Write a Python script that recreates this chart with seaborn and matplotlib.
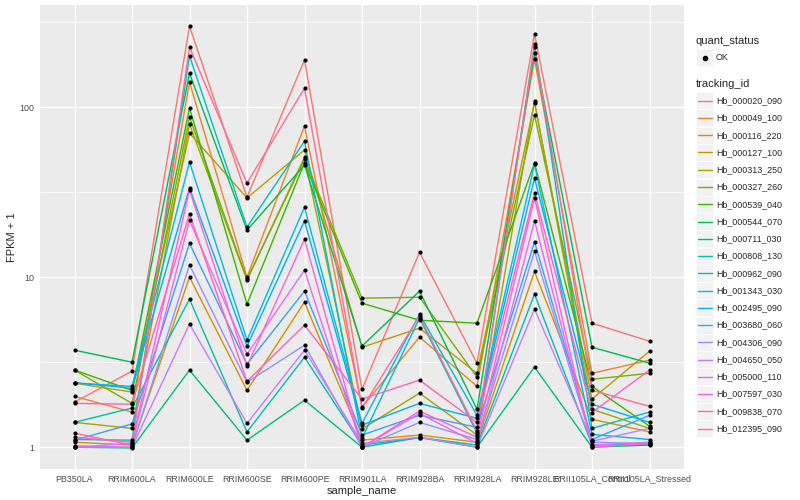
import numpy as np
import pandas as pd
import seaborn as sns
import matplotlib
matplotlib.use("Agg")
import matplotlib.pyplot as plt
from matplotlib.patches import Rectangle
from matplotlib.lines import Line2D

samples = ["PB350LA", "RRIM600LA", "RRIM600LE", "RRIM600SE", "RRIM600PE",
           "RRIM901LA", "RRIM928BA", "RRIM928LA", "RRIM928LE",
           "RRII105LA_Control", "RRII105LA_Stressed"]

ids = ["Hb_000020_090", "Hb_000049_100", "Hb_000116_220", "Hb_000127_100",
       "Hb_000313_250", "Hb_000327_260", "Hb_000539_040", "Hb_000544_070",
       "Hb_000711_030", "Hb_000808_130", "Hb_000962_090", "Hb_001343_030",
       "Hb_002495_090", "Hb_003680_060", "Hb_004306_090", "Hb_004650_050",
       "Hb_005000_110", "Hb_007597_030", "Hb_009838_070", "Hb_012395_090"]

# FPKM + 1, one list per tracking_id, in sample order
hb_000020_090 = [1.84, 2.80, 299, 29.5, 189, 2.19, 14.0, 3.12, 269, 5.36, 4.20]
hb_000049_100 = [1.99, 1.61, 140, 10.0, 77.3, 1.72, 4.44, 2.28, 191, 2.72, 3.25]
hb_000116_220 = [1.07, 1.03, 10.0, 2.16, 7.13, 1.10, 1.18, 1.07, 10.8, 1.46, 1.23]
hb_000127_100 = [2.38, 2.11, 70.3, 29.2, 55.9, 3.87, 5.01, 2.72, 106, 1.92, 3.67]
hb_000313_250 = [1.40, 1.29, 79.4, 9.6, 50.8, 1.28, 2.08, 1.18, 108, 1.67, 1.29]
hb_000327_260 = [2.84, 1.81, 87.3, 9.7, 49.4, 7.52, 7.62, 2.58, 89.8, 2.51, 2.72]
hb_000539_040 = [2.84, 2.16, 98.7, 6.94, 47.0, 7.03, 5.58, 5.36, 46.9, 2.28, 1.33]
hb_000544_070 = [3.72, 3.16, 158, 18.9, 45.6, 3.93, 8.27, 1.67, 208, 3.87, 3.12]
hb_000711_030 = [1.00, 0.99, 2.84, 1.10, 1.89, 1.00, 1.14, 1.00, 2.96, 1.00, 1.03]
hb_000808_130 = [1.40, 1.70, 7.42, 1.23, 3.38, 1.03, 1.14, 1.03, 7.94, 1.03, 1.04]
hb_000962_090 = [1.11, 1.10, 200, 19.7, 63.0, 1.13, 5.74, 1.21, 235, 1.29, 1.61]
hb_001343_030 = [2.38, 2.28, 47.5, 4.26, 25.8, 1.38, 6.06, 1.54, 46.0, 1.19, 1.11]
hb_002495_090 = [2.40, 2.22, 33.4, 3.93, 21.4, 1.35, 1.81, 1.48, 38.2, 1.79, 1.40]
hb_003680_060 = [1.10, 1.37, 15.8, 3.08, 8.27, 1.18, 1.54, 1.31, 16.1, 1.11, 1.54]
hb_004306_090 = [1.00, 1.00, 11.8, 2.41, 3.98, 1.00, 1.40, 1.11, 14.2, 1.07, 1.05]
hb_004650_050 = [1.02, 1.00, 5.29, 1.38, 3.72, 1.055, 1.145, 1.00, 6.49, 1.085, 1.29]
hb_005000_110 = [1.00, 1.055, 21.6, 3.52, 11.0, 1.00, 1.58, 1.055, 21.4, 1.03, 1.07]
hb_007597_030 = [1.145, 1.07, 32.5, 3.00, 16.7, 1.00, 1.63, 1.145, 29.2, 1.00, 1.055]
hb_009838_070 = [1.81, 1.79, 23.5, 2.44, 5.22, 1.92, 2.48, 1.40, 31.2, 1.60, 2.84]
hb_012395_090 = [1.21, 1.03, 225, 35.7, 129, 1.70, 5.90, 1.25, 225, 2.16, 1.74]

series = [hb_000020_090, hb_000049_100, hb_000116_220, hb_000127_100,
          hb_000313_250, hb_000327_260, hb_000539_040, hb_000544_070,
          hb_000711_030, hb_000808_130, hb_000962_090, hb_001343_030,
          hb_002495_090, hb_003680_060, hb_004306_090, hb_004650_050,
          hb_005000_110, hb_007597_030, hb_009838_070, hb_012395_090]


def hcl_hex(h, c=100.0, l=65.0):
    # ggplot2 hue_pal colours (polar LUV -> sRGB)
    hr = np.radians(h)
    u, v = c * np.cos(hr), c * np.sin(hr)
    xn, yn, zn = 95.047, 100.0, 108.883
    un = 4 * xn / (xn + 15 * yn + 3 * zn)
    vn = 9 * yn / (xn + 15 * yn + 3 * zn)
    y = yn * ((l + 16) / 116) ** 3
    up = u / (13 * l) + un
    vp = v / (13 * l) + vn
    x = y * 9 * up / (4 * vp)
    z = y * (12 - 3 * up - 20 * vp) / (4 * vp)
    xyz = np.array([x, y, z]) / 100
    m = np.array([[3.2404542, -1.5371385, -0.4985314],
                  [-0.9692660, 1.8760108, 0.0415560],
                  [0.0556434, -0.2040259, 1.0572252]])
    rgb = m @ xyz
    rgb = np.where(rgb <= 0.0031308, 12.92 * rgb, 1.055 * np.clip(rgb, 0, None) ** (1 / 2.4) - 0.055)
    rgb = np.clip(rgb, 0, 1)
    return "#%02X%02X%02X" % tuple(int(round(k * 255)) for k in rgb)


hues = np.linspace(15, 375, len(ids) + 1)[:-1]
palette = [hcl_hex(h) for h in hues]

rows = []
for tid, vals in zip(ids, series):
    for s, v in zip(samples, vals):
        rows.append({"tracking_id": tid, "sample_name": s, "fpkm1": v, "quant_status": "OK"})
df = pd.DataFrame(rows)
df["x"] = df["sample_name"].map({s: i for i, s in enumerate(samples)})

sns.set_style("white")
plt.rcParams["font.family"] = ["Liberation Sans", "DejaVu Sans"]

fig = plt.figure(figsize=(8, 5), dpi=100)
ax = fig.add_axes([40 / 800, 1 - 469 / 500, 644 / 800, 464 / 500])
ax.set_facecolor("#EBEBEB")

sns.lineplot(data=df, x="x", y="fpkm1", hue="tracking_id", hue_order=ids,
             palette=palette, sort=False, estimator=None, lw=1.0, ax=ax, legend=False)
sns.scatterplot(data=df, x="x", y="fpkm1", color="black", s=9, marker="o",
                linewidth=0, ax=ax, legend=False, zorder=5)

ax.set_yscale("log")
ax.set_ylim(10 ** -0.128, 10 ** 2.6)
ax.set_xlim(-0.6, len(samples) - 0.4)
ax.set_yticks([1, 10, 100])
ax.set_yticklabels(["1", "10", "100"])
ax.set_yticks([10 ** 0.5, 10 ** 1.5, 10 ** 2.5], minor=True)
ax.yaxis.set_minor_formatter(matplotlib.ticker.NullFormatter())
ax.set_xticks(range(len(samples)))
ax.set_xticklabels(samples)

ax.grid(True, which="major", color="white", lw=1.0)
ax.grid(True, which="minor", axis="y", color="white", lw=0.5)
ax.set_axisbelow(True)
for sp in ax.spines.values():
    sp.set_visible(False)
ax.tick_params(axis="both", which="major", length=2, width=0.6, color="#333333",
               labelsize=6.4, labelcolor="#4D4D4D", pad=2)
ax.tick_params(axis="y", which="minor", length=0)
ax.set_xlabel("sample_name", fontsize=8, labelpad=2)
ax.set_ylabel("FPKM + 1", fontsize=8, labelpad=2)

# legends drawn ggplot-style at the right
def fy(py):
    return 1 - py / 500


def fx(px):
    return px / 800


fig.text(fx(696), fy(41), "quant_status", fontsize=8, va="center", ha="left")
fig.patches.append(Rectangle((fx(696), fy(66)), 17 / 800, 17 / 500, transform=fig.transFigure,
                             facecolor="#F2F2F2", edgecolor="white", lw=0.5))
fig.lines.append(Line2D([fx(704.5)], [fy(57.5)], transform=fig.transFigure, marker="o",
                        markersize=3, color="black", lw=0))
fig.text(fx(716), fy(57.5), "OK", fontsize=6.4, va="center", ha="left")

fig.text(fx(696), fy(84), "tracking_id", fontsize=8, va="center", ha="left")
for i, (tid, col) in enumerate(zip(ids, palette)):
    yc = 100.7 + i * 17.26
    fig.patches.append(Rectangle((fx(696), fy(yc + 8.5)), 17 / 800, 17 / 500,
                                 transform=fig.transFigure, facecolor="#F2F2F2",
                                 edgecolor="white", lw=0.5))
    fig.lines.append(Line2D([fx(698), fx(711.5)], [fy(yc), fy(yc)], transform=fig.transFigure,
                            color=col, lw=1.0))
    fig.text(fx(716), fy(yc), tid, fontsize=6.4, va="center", ha="left")

fig.savefig("out.png", dpi=100)
